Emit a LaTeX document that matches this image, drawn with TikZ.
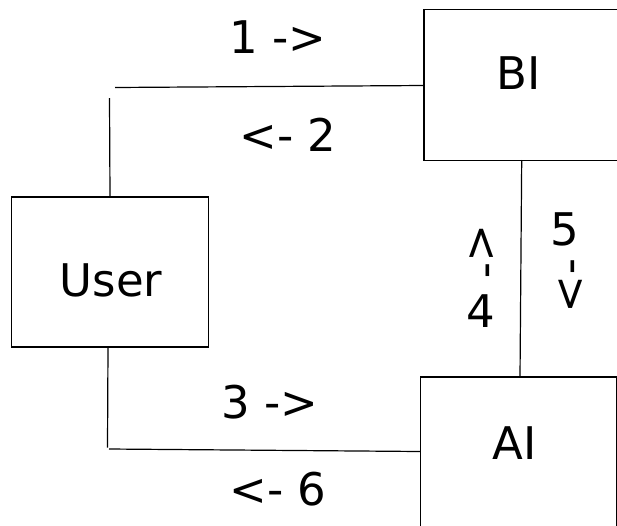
\documentclass[tikz,border=0pt]{standalone}
\usepackage{fontspec}
\setmainfont{DejaVu Sans}
\begin{document}
\begin{tikzpicture}[x=1pt,y=-1pt,
  box/.style={draw, line width=1.2pt, inner sep=0pt, rectangle},
  lbl/.style={inner sep=0pt, font=\fontsize{45}{54}\selectfont},
  conn/.style={line width=1.2pt}]
\useasboundingbox[fill=white] (0,0) rectangle (617,525);
% boxes
\node[box, minimum width=196.5pt, minimum height=150pt] (user) at (109.85,272) {};
\node[box, minimum width=196pt, minimum height=150.5pt] (bi) at (522,85) {};
\node[box, minimum width=196pt, minimum height=160pt] (ai) at (518.5,457) {};
% box texts
\node[lbl] (usertext) at (111,280) {User};
\node[lbl] (bitext) at (519,73) {BI};
\node[lbl] (aitext) at (515,443) {AI};
% connector points
\coordinate (u1) at (110,197);
\coordinate (u2) at (109.5,98);
\coordinate (h1) at (115,87.5);
\coordinate (b1) at (424,85.5);
\coordinate (u3) at (108,347);
\coordinate (u4) at (107.5,447.5);
\coordinate (h2) at (109,449);
\coordinate (a1) at (420.5,451.5);
\coordinate (b2) at (521.7,160);
\coordinate (a2) at (520,377);
\draw[conn] (u1) -- (u2);
\draw[conn] (h1) -- (b1);
\draw[conn] (u3) -- (u4);
\draw[conn] (h2) -- (a1);
\draw[conn] (b2) -- (a2);
% labels
\node[lbl] (l1) at (278,37) {1 ->};
\node[lbl] (l2) at (288,135) {<- 2};
\node[lbl] (l3) at (270,402) {3 ->};
\node[lbl] (l6) at (278,489) {<- 6};
\node[lbl, rotate=-90] (l4a) at (481,243) {<};
\node[lbl, rotate=-90] (l4b) at (483,270.5) {-};
\node[lbl] (l4c) at (481,311) {4};
\node[lbl] (l5a) at (565,229) {5};
\node[lbl, rotate=-90] (l5b) at (568,267) {-};
\node[lbl, rotate=-90] (l5c) at (570,294) {>};
\end{tikzpicture}
\end{document}
